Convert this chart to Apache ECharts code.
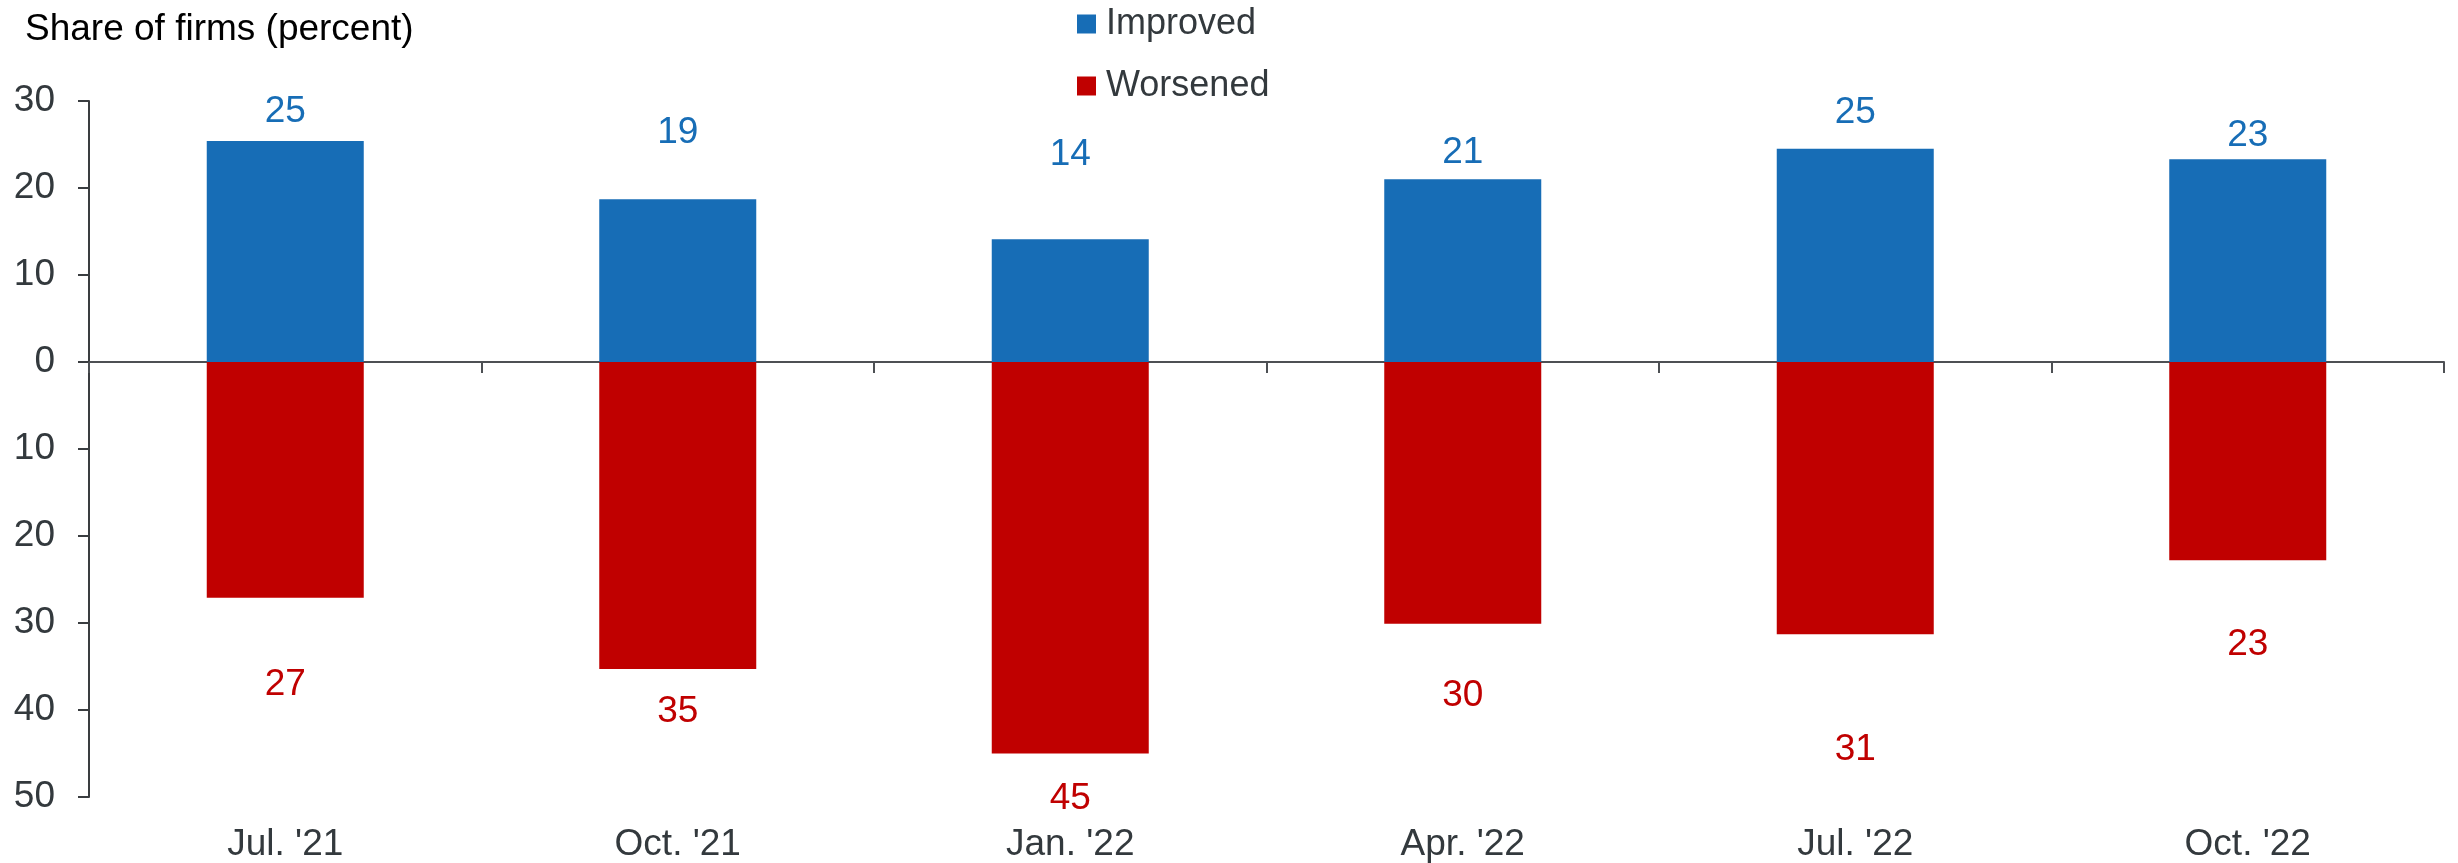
<!DOCTYPE html>
<html>
<head>
<meta charset="utf-8">
<title>Share of firms</title>
<script src="https://cdn.jsdelivr.net/npm/echarts@6/dist/echarts.min.js"></script>
<style>
  html, body { margin: 0; padding: 0; background: #ffffff; }
  #chart { width: 2458px; height: 863px; }
</style>
</head>
<body>
<div id="chart"></div>
<script>
// Survey periods
const categories = ["Jul. '21", "Oct. '21", "Jan. '22", "Apr. '22", "Jul. '22", "Oct. '22"];
// Share of firms reporting an improvement (percent)
const improved = [25.4, 18.7, 14.1, 21.0, 24.5, 23.3];
// Share of firms reporting a worsening (percent), drawn below zero
const worsened = [27.1, 35.3, 45.0, 30.1, 31.3, 22.8];
// Value axis ticks
const yTicks = { min: -50, max: 30, step: 10 };

// Vertical nudges (px) for the value labels
const improvedLabelShift = [-11, -48, -66, -8, -18, -5];
const worsenedLabelShift = [69, 24, 27, 53, 97, 66];

const FONT = '"Liberation Sans", Arial, sans-serif';
const BLUE = '#176db6';
const RED = '#c00000';
const AXIS = '#3a3d40';
const TEXT = '#33393d';

const chart = echarts.init(document.getElementById('chart'));

chart.setOption({
  animation: false,
  backgroundColor: '#ffffff',
  textStyle: { fontFamily: FONT },
  title: {
    text: 'Share of firms (percent)',
    left: 20,
    top: 6,
    textStyle: { fontFamily: FONT, fontSize: 37, fontWeight: 'normal', color: '#000000' }
  },
  legend: {
    orient: 'vertical',
    left: 1077,
    top: 5,
    padding: 0,
    itemWidth: 19,
    itemHeight: 19,
    itemGap: 24,
    icon: 'rect',
    textStyle: { fontFamily: FONT, fontSize: 36, color: TEXT, lineHeight: 38, padding: [0, 0, 0, 5] },
    data: ['Improved', 'Worsened']
  },
  grid: { left: 89, right: 14, top: 101, bottom: 63, containLabel: false },
  xAxis: [
    {
      // category labels along the bottom edge
      type: 'category',
      data: categories,
      position: 'bottom',
      axisLine: { show: false, onZero: false },
      axisTick: { show: false },
      axisLabel: { show: true, fontFamily: FONT, fontSize: 37, color: TEXT, margin: 29 },
      splitLine: { show: false }
    },
    {
      // zero line with category dividers
      type: 'category',
      data: categories,
      position: 'bottom',
      axisLine: { show: true, onZero: true, lineStyle: { color: '#4d5054', width: 2 } },
      axisTick: { show: true, length: 11, lineStyle: { color: '#4d5054', width: 2 } },
      axisLabel: { show: false },
      splitLine: { show: false }
    }
  ],
  yAxis: {
    type: 'value',
    min: yTicks.min,
    max: yTicks.max,
    interval: yTicks.step,
    axisLine: { show: true, lineStyle: { color: AXIS, width: 2 } },
    axisTick: { show: true, length: 11, lineStyle: { color: AXIS, width: 2 } },
    axisLabel: {
      fontFamily: FONT, fontSize: 37, color: TEXT, margin: 34,
      formatter: v => String(Math.abs(v))
    },
    splitLine: { show: false }
  },
  series: [
    {
      name: 'Improved',
      type: 'bar',
      xAxisIndex: 0,
      barWidth: '40%',
      barGap: '-100%',
      itemStyle: { color: BLUE },
      data: improved.map((v, i) => ({
        value: v,
        label: { offset: [0, improvedLabelShift[i]] }
      })),
      label: {
        show: true,
        position: 'top',
        distance: 0,
        fontFamily: FONT,
        fontSize: 37,
        color: BLUE,
        formatter: p => String(Math.round(Math.abs(p.value)))
      }
    },
    {
      name: 'Worsened',
      type: 'bar',
      xAxisIndex: 0,
      barWidth: '40%',
      barGap: '-100%',
      itemStyle: { color: RED },
      data: worsened.map((v, i) => ({
        value: -v,
        label: { offset: [0, worsenedLabelShift[i]] }
      })),
      label: {
        show: true,
        position: 'bottom',
        distance: 0,
        fontFamily: FONT,
        fontSize: 37,
        color: RED,
        formatter: p => String(Math.round(Math.abs(p.value)))
      }
    }
  ]
});
</script>
</body>
</html>
